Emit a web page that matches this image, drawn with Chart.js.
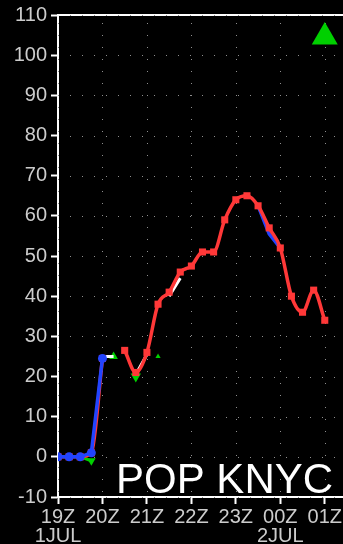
<!DOCTYPE html>
<html>
<head>
<meta charset="utf-8">
<title>POP KNYC</title>
<script src="https://cdn.jsdelivr.net/npm/chart.js@4.4.1/dist/chart.umd.min.js"></script>
<style>
  html, body { margin: 0; padding: 0; background: #000; overflow: hidden; }
  #wrap { width: 343px; height: 544px; overflow: hidden; }
</style>
</head>
<body>
<div id="wrap"><canvas id="popChart" width="362" height="544"></canvas></div>
<script>
// hours since 00Z 1 JUL, one sample every 15 minutes
const times = [19, 19.25, 19.5, 19.75, 20, 20.25, 20.5, 20.75, 21, 21.25, 21.5, 21.75,
               22, 22.25, 22.5, 22.75, 23, 23.25, 23.5, 23.75, 24, 24.25, 24.5, 24.75, 25];
const hourTicks = [19, 20, 21, 22, 23, 24, 25];
const hourLabels = [["19Z", "1JUL"], "20Z", "21Z", "22Z", "23Z", ["00Z", "2JUL"], "01Z"];
const stationName = "POP KNYC";

// probability of precipitation (%)
const redPop = [0, 0, 0, 1, 24.5, null, 26.5, 21, 26, 38, 41, 46, 47.5, 51, 51, 59,
                64, 65, 62.5, 57, 52, 40, 36, 41.5, 34];
const bluePopEarly = [0, 0, 0, 1, 24.5, null, null, null, null, null, null, null, null,
                      null, null, null, null, null, null, null, null, null, null, null, null];
const bluePopLate = [null, null, null, null, null, null, null, null, null, null, null, null,
                     null, null, null, null, null, null, 62.5, 55.5, 52, null, null, null, null];
const whitePop = [null, null, null, null, 25, 25, null, 20.5, 25.5, null, 40, 44.5, null,
                  null, null, null, null, null, null, null, null, null, null, null, null];
const greenPop = [null, null, 0, -1, null, 25, null, 20, null, 25, null, null, null,
                  null, null, null, null, null, null, null, null, null, null, null, 104.5];

function pairs(vals) {
  return vals.map((v, i) => ({ x: times[i], y: v }));
}

const white = '#ffffff';
const labelGrey = '#cccccc';
const tickFont = { family: "'Liberation Sans', Arial, sans-serif", size: 20, lineHeight: 0.95 };

// dotted grid, drawn by hand so the dots stay sparse
const dottedGrid = {
  id: 'dottedGrid',
  beforeDatasetsDraw(chart) {
    const { ctx, chartArea: a, scales } = chart;
    ctx.save();
    ctx.fillStyle = '#8e8e8e';
    scales.y.ticks.forEach(t => {
      const py = Math.round(scales.y.getPixelForValue(t.value));
      for (let px = a.left + 12; px < a.right; px += 12) ctx.fillRect(px, py, 1, 1);
    });
    hourTicks.forEach(h => {
      const px = Math.round(scales.x.getPixelForValue(h));
      for (let py = a.top + 8; py < a.bottom; py += 12) ctx.fillRect(px, py, 1, 1);
    });
    ctx.restore();
  }
};

// big station label in the lower right
const stationLabel = {
  id: 'stationLabel',
  afterDraw(chart) {
    const ctx = chart.ctx;
    ctx.save();
    ctx.font = "42px 'Liberation Sans', Arial, sans-serif";
    ctx.fillStyle = white;
    ctx.textBaseline = 'alphabetic';
    ctx.fillText(stationName, 116, 493);
    ctx.restore();
  }
};

new Chart(document.getElementById('popChart'), {
  type: 'line',
  data: {
    datasets: [
      {
        data: pairs(bluePopEarly),
        borderColor: '#2244ff', backgroundColor: '#2244ff',
        borderWidth: 3.5, pointRadius: 4.5, pointBorderWidth: 0
      },
      {
        data: pairs(redPop),
        borderColor: '#ff3838', backgroundColor: '#ff3838',
        borderWidth: 3.5, pointStyle: 'rect', pointRadius: 5, pointBorderWidth: 0,
        cubicInterpolationMode: 'monotone'
      },
      {
        data: pairs(whitePop),
        borderColor: white, backgroundColor: white,
        borderWidth: 3, pointRadius: 0
      },
      {
        data: pairs(bluePopLate),
        borderColor: '#2244ff', backgroundColor: '#2244ff',
        borderWidth: 3.5, pointRadius: 0
      },
      {
        data: pairs(greenPop),
        borderColor: '#00d000', backgroundColor: '#00d000',
        borderWidth: 3, pointStyle: 'triangle', pointBorderWidth: 0,
        pointRadius: [0, 0, 0, 5, 0, 5, 0, 6, 0, 3, 0, 0, 0, 0, 0, 0, 0, 0, 0, 0, 0, 0, 0, 0, 15],
        pointRotation: [0, 0, 0, 180, 0, 0, 0, 180, 0, 0, 0, 0, 0, 0, 0, 0, 0, 0, 0, 0, 0, 0, 0, 0, 0]
      }
    ]
  },
  options: {
    responsive: false,
    animation: false,
    devicePixelRatio: 1,
    layout: { padding: { top: 15, left: 0, right: 0, bottom: 0 } },
    plugins: { legend: { display: false }, tooltip: { enabled: false } },
    scales: {
      x: {
        type: 'linear', position: 'bottom', min: 19, max: 25.5,
        afterBuildTicks: s => { s.ticks = hourTicks.map(v => ({ value: v })); },
        afterFit: s => { s.height = 47; },
        ticks: {
          color: labelGrey, font: tickFont, padding: 4, maxRotation: 0, autoSkip: false,
          callback: v => hourLabels[hourTicks.indexOf(v)]
        },
        grid: { drawOnChartArea: false, tickLength: 7, tickColor: white, tickWidth: 2 },
        border: { color: white, width: 2 }
      },
      xTop: {
        type: 'linear', position: 'top', min: 19, max: 25.5,
        afterFit: s => { s.height = 0; },
        ticks: { display: false },
        grid: { display: false },
        border: { color: white, width: 2 }
      },
      y: {
        min: -10, max: 110,
        afterFit: s => { s.width = 58; },
        ticks: { stepSize: 10, color: labelGrey, font: tickFont, padding: 4 },
        grid: { drawOnChartArea: false, tickLength: 7, tickColor: white, tickWidth: 2 },
        border: { color: white, width: 2 }
      }
    }
  },
  plugins: [dottedGrid, stationLabel]
});
</script>
</body>
</html>
